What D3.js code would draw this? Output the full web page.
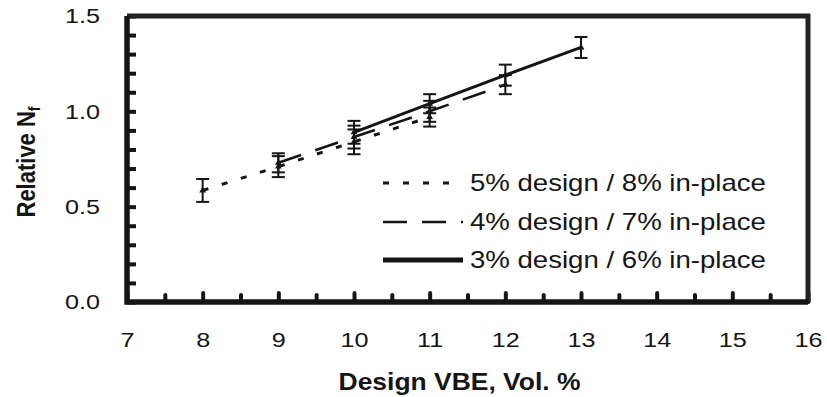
<!DOCTYPE html>
<html>
<head>
<meta charset="utf-8">
<script src="https://cdn.jsdelivr.net/npm/d3@7"></script>
<style>
  body { margin: 0; background: #fff; }
  svg text { font-family: "Liberation Sans", Arial, sans-serif; fill: #151515; }
</style>
</head>
<body>
<div class="chart"></div>
<script>
// Relative Nf vs design VBE, three design / in-place combinations
const xTicks = [7, 8, 9, 10, 11, 12, 13, 14, 15, 16];
const yTicks = [0.0, 0.5, 1.0, 1.5];

const seriesNames = ["5% design / 8% in-place", "4% design / 7% in-place", "3% design / 6% in-place"];

const vbe5 = [8, 9, 10, 11];
const nf5 = [0.585, 0.71, 0.84, 0.97];
const err5 = [0.06, 0.055, 0.065, 0.05];

const vbe4 = [9, 10, 11, 12];
const nf4 = [0.73, 0.865, 1.0, 1.14];
const err4 = [0.05, 0.06, 0.055, 0.05];

const vbe3 = [10, 11, 12, 13];
const nf3 = [0.89, 1.04, 1.19, 1.335];
const err3 = [0.06, 0.05, 0.055, 0.055];

const margin = { top: 16, right: 20, bottom: 95, left: 127 };
const width = 808 - margin.left;
const height = 397 - margin.top - margin.bottom;

const svg = d3.select(".chart").append("svg")
    .attr("width", 827)
    .attr("height", 397)
  .append("g")
    .attr("transform", `translate(${margin.left},${margin.top})`);

const x = d3.scaleLinear().domain([7, 16]).range([0, width]);
const y = d3.scaleLinear().domain([0, 1.5]).range([height, 0]);

// styles per series: dotted, dashed, solid
const styles = [
  { dash: "6,14", width: 3 },
  { dash: "24,15", width: 2.6 },
  { dash: null, width: 3 }
];

const series = [
  { name: seriesNames[0], xs: vbe5, ys: nf5, es: err5 },
  { name: seriesNames[1], xs: vbe4, ys: nf4, es: err4 },
  { name: seriesNames[2], xs: vbe3, ys: nf3, es: err3 }
].map((s, i) => ({ ...s, style: styles[i], pts: s.xs.map((v, j) => ({ x: v, y: s.ys[j], e: s.es[j] })) }));

// y axis
const yAxis = svg.append("g")
    .call(d3.axisLeft(y)
      .tickValues(d3.range(0, 1.501, 0.1))
      .tickSizeInner(-9)
      .tickSizeOuter(0)
      .tickPadding(27)
      .tickFormat(d => yTicks.some(t => Math.abs(t - d) < 1e-6) ? d.toFixed(1) : ""));
yAxis.select(".domain").remove();
yAxis.selectAll(".tick line").style("stroke", "#151515").style("stroke-width", "4px");
yAxis.selectAll(".tick text")
    .style("font-size", "21px")
    .style("transform-box", "fill-box")
    .style("transform-origin", "100% 50%")
    .style("transform", "scaleX(1.2)");

// x axis
const xAxis = svg.append("g")
    .attr("transform", `translate(0,${height})`)
    .call(d3.axisBottom(x)
      .tickValues(d3.range(7, 16.01, 0.5))
      .tickSizeInner(-8)
      .tickSizeOuter(0)
      .tickPadding(30)
      .tickFormat(d => xTicks.includes(d) ? d : ""));
xAxis.select(".domain").remove();
xAxis.selectAll(".tick line")
    .style("stroke", "#151515").style("stroke-width", "4px")
    .style("stroke-linecap", "round")
    .attr("y2", d => Number.isInteger(d) ? -9 : -7);
xAxis.selectAll(".tick text")
    .style("font-size", "21px")
    .style("transform-box", "fill-box")
    .style("transform-origin", "50% 50%")
    .style("transform", "scaleX(1.2)");

// frame: heavy left/bottom, a touch lighter top/right
const frame = svg.append("g").attr("fill", "none");
frame.append("path")
    .attr("d", `M${x(7)},${y(1.5)}H${x(16)}V${y(0)}`)
    .style("stroke", "#222").style("stroke-width", "5px");
frame.append("path")
    .attr("d", `M${x(7)},${y(1.5)}V${y(0)}H${x(16)}`)
    .style("stroke", "#151515").style("stroke-width", "5.5px");

// axis titles
svg.append("text")
    .attr("x", x(11.5) - 8)
    .attr("y", height + 88)
    .attr("text-anchor", "middle")
    .style("font-size", "23px")
    .style("font-weight", "bold")
    .style("transform-box", "fill-box")
    .style("transform-origin", "50% 50%")
    .style("transform", "scaleX(1.15)")
    .text("Design VBE, Vol. %");

const yTitle = svg.append("text")
    .attr("transform", `translate(${35 - margin.left},${162 - margin.top}) rotate(-90) scale(1,1.2)`)
    .attr("text-anchor", "middle")
    .style("font-size", "22px")
    .style("font-weight", "bold");
yTitle.append("tspan").text("Relative N");
yTitle.append("tspan").style("font-size", "14px").attr("dy", "4").text("f");

// lines
const line = d3.line().x(d => x(d.x)).y(d => y(d.y));

svg.selectAll(".series-line")
  .data(series)
  .enter().append("path")
    .attr("class", "series-line")
    .attr("d", d => line(d.pts))
    .attr("fill", "none")
    .attr("stroke", "#151515")
    .attr("stroke-width", d => d.style.width)
    .attr("stroke-dasharray", d => d.style.dash);

// error bars
const allPts = series.flatMap(s => s.pts);
const capW = 6.5;
const eb = svg.append("g").attr("stroke", "#151515").attr("stroke-width", 2);
eb.selectAll(".stem").data(allPts).enter().append("line")
    .attr("x1", d => x(d.x)).attr("x2", d => x(d.x))
    .attr("y1", d => y(d.y - d.e)).attr("y2", d => y(d.y + d.e));
eb.selectAll(".cap-top").data(allPts).enter().append("line")
    .attr("x1", d => x(d.x) - capW).attr("x2", d => x(d.x) + capW)
    .attr("y1", d => y(d.y + d.e)).attr("y2", d => y(d.y + d.e));
eb.selectAll(".cap-bot").data(allPts).enter().append("line")
    .attr("x1", d => x(d.x) - capW).attr("x2", d => x(d.x) + capW)
    .attr("y1", d => y(d.y - d.e)).attr("y2", d => y(d.y - d.e));

// markers
svg.selectAll(".marker").data(allPts).enter().append("path")
    .attr("d", d3.symbol().type(d3.symbolTriangle).size(20))
    .attr("transform", d => `translate(${x(d.x)},${y(d.y)})`)
    .attr("fill", "#151515");

// legend
const legendX = 383 - margin.left;
const legendY = [183, 222, 260];
const legend = svg.append("g");
series.forEach((s, i) => {
  legend.append("line")
      .attr("x1", legendX).attr("x2", legendX + 80)
      .attr("y1", legendY[i] - margin.top).attr("y2", legendY[i] - margin.top)
      .attr("stroke", "#151515")
      .attr("stroke-width", i === 2 ? 5 : s.style.width)
      .attr("stroke-dasharray", s.style.dash);
  legend.append("text")
      .attr("x", 470 - margin.left)
      .attr("y", legendY[i] - margin.top + 8)
      .style("font-size", "23px")
      .style("transform-box", "fill-box")
      .style("transform-origin", "0% 50%")
      .style("transform", "scaleX(1.2)")
      .text(s.name);
});
</script>
</body>
</html>
